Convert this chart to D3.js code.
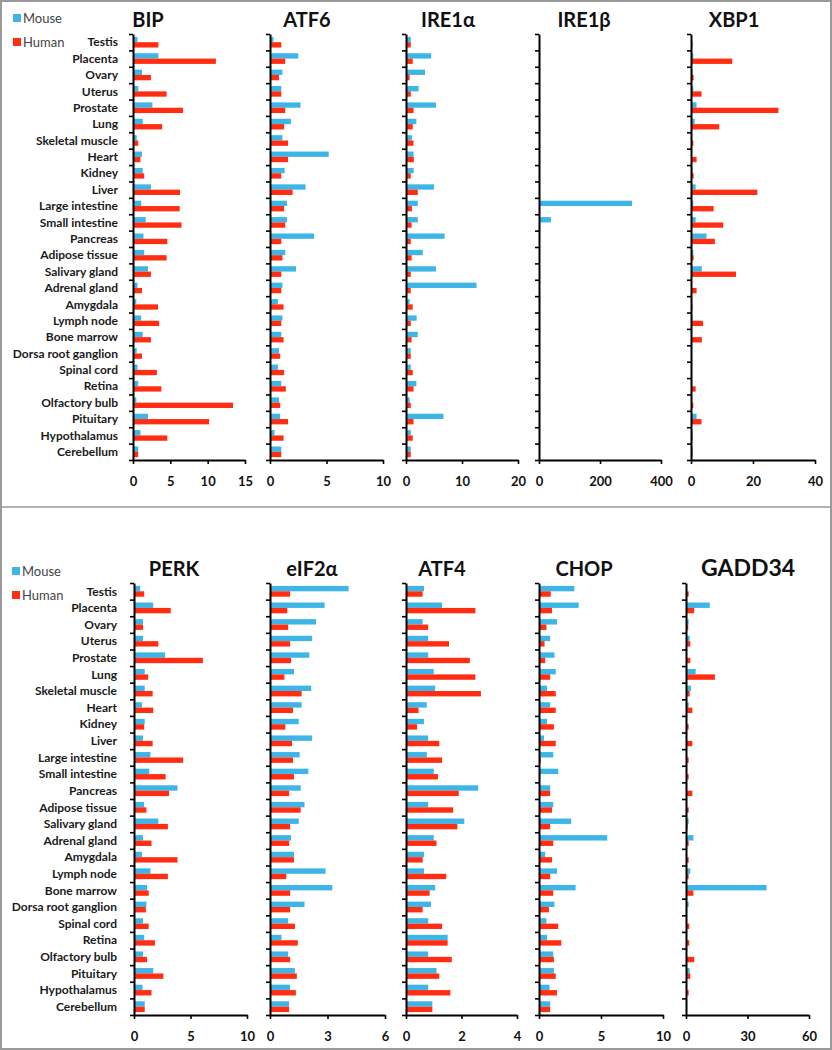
<!DOCTYPE html>
<html>
<head>
<meta charset="utf-8">
<script src="https://cdn.jsdelivr.net/npm/d3@7"></script>
<style>
  body { margin: 0; background: #fff; }
  svg { display: block; }
</style>
</head>
<body>
<div id="mainDiv"></div>
<script>
// tissues, top to bottom
const tissues = ["Testis", "Placenta", "Ovary", "Uterus", "Prostate", "Lung", "Skeletal muscle",
  "Heart", "Kidney", "Liver", "Large intestine", "Small intestine", "Pancreas", "Adipose tissue",
  "Salivary gland", "Adrenal gland", "Amygdala", "Lymph node", "Bone marrow", "Dorsa root ganglion",
  "Spinal cord", "Retina", "Olfactory bulb", "Pituitary", "Hypothalamus", "Cerebellum"];

const bipMouse = [0.6, 3.4, 1.2, 0.7, 2.6, 1.3, 0.5, 1.2, 1.3, 2.4, 1.1, 1.7, 1.4, 1.5, 2.0, 0.6, 0.45, 1.1, 1.3, 0.5, 0.6, 0.7, 0.45, 2.0, 1.0, 0.7];
const bipHuman = [3.4, 11.1, 2.4, 4.5, 6.7, 3.9, 0.7, 1.0, 1.5, 6.3, 6.25, 6.5, 4.6, 4.5, 2.4, 1.2, 3.35, 3.5, 2.4, 1.2, 3.2, 3.8, 13.4, 10.2, 4.6, 0.7];

const atf6Mouse = [0.3, 2.5, 1.1, 1.0, 2.7, 1.85, 1.1, 5.2, 1.3, 3.15, 1.5, 1.5, 3.9, 1.35, 2.3, 1.1, 0.7, 1.1, 1.0, 0.8, 0.7, 1.0, 0.8, 0.9, 0.4, 1.0];
const atf6Human = [1.0, 1.35, 0.8, 1.0, 1.35, 1.25, 1.6, 1.6, 1.0, 2.0, 1.25, 1.35, 1.0, 1.1, 1.0, 1.0, 1.2, 1.0, 1.2, 0.9, 1.25, 1.4, 0.9, 1.6, 1.2, 1.0];

const ire1aMouse = [0.85, 4.5, 3.4, 2.25, 5.35, 1.85, 1.05, 1.35, 1.35, 5.0, 2.1, 2.1, 6.9, 3.0, 5.35, 12.6, 0.65, 1.9, 2.1, 0.85, 0.85, 1.85, 0.65, 6.7, 0.85, 0.85];
const ire1aHuman = [0.85, 1.2, 0.65, 0.85, 1.35, 1.2, 1.35, 1.4, 0.85, 2.1, 1.05, 1.0, 0.85, 1.0, 0.85, 0.85, 1.2, 0.85, 1.0, 0.85, 1.2, 1.35, 0.85, 1.35, 1.2, 0.85];

const ire1bMouse = [0, 0, 0, 0, 0, 0, 0, 0, 0, 0, 305, 39, 0, 0, 0, 0, 0, 0, 0, 0, 0, 0, 0, 0, 0, 0];
const ire1bHuman = [0, 0, 0, 0, 0, 0, 0, 0, 0, 0, 0, 0, 0, 0, 0, 0, 0, 0, 0, 0, 0, 0, 0, 0, 0, 0];

const xbp1Mouse = [0.1, 0.75, 0.5, 0.75, 1.8, 1.2, 0.2, 0.2, 0.5, 1.5, 0.75, 1.5, 5.0, 0.75, 3.5, 0.2, 0.1, 0.5, 0.3, 0.1, 0.1, 0.2, 0.2, 1.8, 0.5, 0.5];
const xbp1Human = [0.5, 13.3, 0.85, 3.4, 28.2, 9.1, 0.75, 1.8, 0.85, 21.4, 7.3, 10.4, 7.7, 0.85, 14.5, 1.8, 0.5, 3.9, 3.5, 0.3, 0.3, 1.5, 0.75, 3.4, 0.5, 0.5];

const perkMouse = [0.55, 1.7, 0.8, 0.8, 2.75, 0.95, 0.95, 0.7, 0.95, 0.8, 1.45, 1.35, 3.85, 0.9, 2.15, 0.8, 0.7, 1.45, 1.15, 1.1, 0.8, 0.9, 0.8, 1.7, 0.75, 0.95];
const perkHuman = [0.9, 3.25, 0.8, 2.15, 6.1, 1.25, 1.65, 1.7, 0.9, 1.65, 4.35, 2.8, 3.1, 1.1, 3.0, 1.55, 3.85, 3.0, 1.3, 1.05, 1.3, 1.85, 1.15, 2.6, 1.55, 0.95];

const eif2aMouse = [4.1, 2.85, 2.4, 2.2, 2.05, 1.25, 2.15, 1.65, 1.5, 2.2, 1.55, 2.0, 1.6, 1.8, 1.5, 1.1, 1.25, 2.9, 3.25, 1.8, 0.95, 0.6, 0.95, 1.3, 1.05, 1.0];
const eif2aHuman = [1.05, 0.9, 0.95, 1.05, 1.1, 0.75, 1.65, 1.2, 0.8, 1.15, 1.2, 1.25, 1.0, 1.6, 1.05, 1.0, 1.25, 0.85, 1.05, 1.05, 1.3, 1.45, 1.05, 1.4, 1.35, 1.0];

const atf4Mouse = [0.65, 1.3, 0.6, 0.8, 0.8, 1.0, 1.05, 0.75, 0.65, 0.8, 0.75, 1.0, 2.6, 0.8, 2.1, 1.0, 0.65, 0.65, 1.05, 0.9, 0.8, 1.5, 0.8, 1.1, 0.8, 0.95];
const atf4Human = [0.6, 2.5, 0.8, 1.55, 2.3, 2.5, 2.7, 0.45, 0.4, 1.2, 1.3, 1.15, 1.9, 1.7, 1.85, 1.1, 0.6, 1.45, 0.85, 0.6, 1.3, 1.5, 1.65, 1.2, 1.6, 0.95];

const chopMouse = [2.85, 3.2, 1.45, 0.9, 1.25, 1.35, 0.65, 0.9, 0.65, 0.4, 1.15, 1.55, 0.9, 1.15, 2.6, 5.5, 0.5, 1.45, 2.95, 1.25, 0.6, 0.65, 1.15, 1.2, 0.85, 0.9];
const chopHuman = [0.95, 1.05, 0.6, 0.45, 0.5, 0.9, 1.35, 1.35, 1.2, 1.35, 0.15, 0.1, 0.9, 1.05, 0.9, 1.15, 1.05, 0.9, 1.15, 0.8, 1.55, 1.8, 1.2, 1.35, 1.45, 0.9];

const gadd34Mouse = [0.2, 11.6, 1.3, 1.8, 0.5, 4.7, 2.4, 1.3, 0.2, 0.5, 0.2, 0.2, 0.2, 0.5, 1.3, 3.6, 0.2, 2.1, 39.3, 1.3, 0.2, 0.2, 0.3, 1.8, 0.2, 0.3];
const gadd34Human = [1.3, 4.0, 1.1, 2.1, 2.1, 14.1, 1.8, 3.1, 1.3, 3.1, 1.3, 1.3, 3.1, 1.3, 0.8, 1.3, 1.3, 1.3, 3.6, 0.5, 1.6, 1.6, 4.0, 2.1, 1.3, 0.5];

const geneNames = ["BIP", "ATF6", "IRE1α", "IRE1β", "XBP1", "PERK", "eIF2α", "ATF4", "CHOP", "GADD34"];
const mouseSeries = [bipMouse, atf6Mouse, ire1aMouse, ire1bMouse, xbp1Mouse, perkMouse, eif2aMouse, atf4Mouse, chopMouse, gadd34Mouse];
const humanSeries = [bipHuman, atf6Human, ire1aHuman, ire1bHuman, xbp1Human, perkHuman, eif2aHuman, atf4Human, chopHuman, gadd34Human];
const axisMax = [15, 10, 20, 400, 40, 10, 6, 4, 10, 60];
const axisTicks = [[0, 5, 10, 15], [0, 5, 10], [0, 10, 20], [0, 200, 400], [0, 20, 40],
  [0, 5, 10], [0, 3, 6], [0, 2, 4], [0, 5, 10], [0, 30, 60]];
const seriesNames = ["Mouse", "Human"];

// layout
const width = 832, height = 1050;
const colors = { Mouse: "#3db5e6", Human: "#ff2e12" };
const font = "Lato, 'Open Sans', sans-serif";
const rows = [
  { top: 34, bottom: 460, titleY: 27, legendX: 13, legendY: 14, labelX: 118 },
  { top: 583, bottom: 1015, titleY: 576, legendX: 12, legendY: 567, labelX: 117 }
];
const panelLeft = [133, 270, 406, 539, 691, 134, 270, 406, 539, 686];
const panelRight = [245, 383, 518, 661, 815, 247, 385, 517, 663, 809];
const titleCenter = [148, 307, 448, 584, 734, 174, 312, 442, 584, 748];

const svg = d3.select("#mainDiv")
  .append("svg")
  .attr("width", width)
  .attr("height", height)
  .attr("viewBox", [0, 0, width, height]);

// frame
svg.append("rect")
  .attr("x", 1).attr("y", 1)
  .attr("width", width - 2).attr("height", height - 2)
  .attr("fill", "none")
  .attr("stroke", "#9a9a9a")
  .attr("stroke-width", 2);

svg.append("line")
  .attr("x1", 0).attr("x2", width)
  .attr("y1", 507).attr("y2", 507)
  .attr("stroke", "#9a9a9a")
  .attr("stroke-width", 1.5);

for (let i = 0; i < geneNames.length; i++) {
  drawPanel(i);
}
rows.forEach(drawLegend);

function drawPanel(i) {
  let row = rows[i < 5 ? 0 : 1];

  let x = d3.scaleLinear()
    .domain([0, axisMax[i]])
    .range([panelLeft[i], panelRight[i]]);

  let y = d3.scaleBand()
    .domain(tissues)
    .range([row.top, row.bottom])
    .paddingInner(0.35)
    .paddingOuter(0.175);

  let ySub = d3.scaleBand()
    .domain(seriesNames)
    .range([0, y.bandwidth()]);

  let yTicks = d3.scaleLinear()
    .domain([0, tissues.length])
    .range([row.top, row.bottom]);

  let g = svg.append("g");

  g.append("text")
    .attr("x", titleCenter[i])
    .attr("y", row.titleY)
    .attr("text-anchor", "middle")
    .attr("font-family", font)
    .attr("font-weight", "bold")
    .attr("font-size", geneNames[i] == "GADD34" ? 23 : 20)
    .attr("fill", "#111")
    .text(geneNames[i]);

  let bars = tissues.flatMap((t, k) => [
    { tissue: t, series: "Mouse", value: mouseSeries[i][k] },
    { tissue: t, series: "Human", value: humanSeries[i][k] }
  ]);

  g.append("g")
    .selectAll("rect")
    .data(bars.filter(d => d.value > 0))
    .join("rect")
    .attr("x", x(0))
    .attr("y", d => y(d.tissue) + ySub(d.series))
    .attr("width", d => x(d.value) - x(0))
    .attr("height", ySub.bandwidth())
    .attr("fill", d => colors[d.series]);

  // category boundary ticks
  g.append("g")
    .attr("transform", `translate(${x(0)},0)`)
    .call(d3.axisLeft(yTicks)
      .tickValues(d3.range(tissues.length + 1))
      .tickFormat("")
      .tickSize(4)
      .tickSizeOuter(0))
    .call(a => a.select(".domain").attr("stroke-width", 2))
    .call(a => a.selectAll(".tick line").attr("stroke-width", 1.6));

  g.append("g")
    .attr("transform", `translate(0,${row.bottom})`)
    .call(d3.axisBottom(x)
      .tickValues(axisTicks[i])
      .tickFormat(d3.format("d"))
      .tickSize(4)
      .tickSizeOuter(0)
      .tickPadding(13))
    .call(a => a.select(".domain").attr("stroke-width", 2))
    .call(a => a.selectAll(".tick line").attr("stroke-width", 1.6))
    .call(a => a.selectAll(".tick text")
      .attr("font-family", font)
      .attr("font-weight", "bold")
      .attr("font-size", 13)
      .attr("fill", "#111"));

  if (i == 0 || i == 5) {
    g.append("g")
      .selectAll("text")
      .data(tissues)
      .join("text")
      .attr("x", row.labelX)
      .attr("y", d => y(d) + y.bandwidth() / 2)
      .attr("dy", "0.35em")
      .attr("text-anchor", "end")
      .attr("font-family", font)
      .attr("font-weight", "bold")
      .attr("font-size", 12)
      .attr("fill", "#1a1a1a")
      .text(d => d);
  }
}

function drawLegend(row) {
  let lg = svg.append("g")
    .selectAll("g")
    .data(seriesNames)
    .join("g")
    .attr("transform", (d, k) => `translate(${row.legendX},${row.legendY + k * 24})`);

  lg.append("rect")
    .attr("width", 8)
    .attr("height", 8)
    .attr("fill", d => colors[d]);

  lg.append("text")
    .attr("x", 10)
    .attr("y", 8.5)
    .attr("font-family", font)
    .attr("font-size", 13)
    .attr("fill", "#444")
    .text(d => d);
}
</script>
</body>
</html>
